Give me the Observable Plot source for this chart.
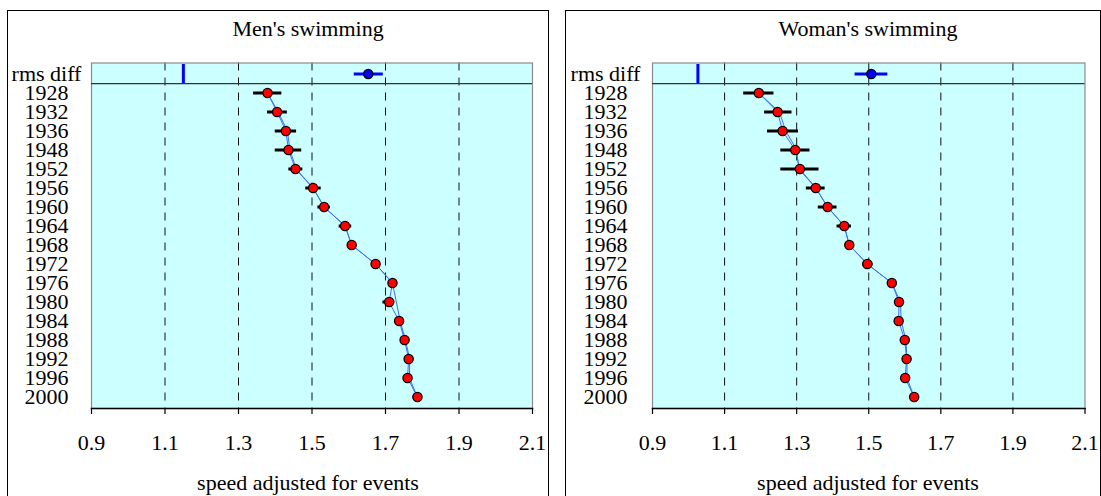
<!DOCTYPE html>
<html>
<head>
<meta charset="utf-8">
<script src="https://cdn.jsdelivr.net/npm/d3@7"></script>
<script src="https://cdn.jsdelivr.net/npm/@observablehq/plot@0.6"></script>
<style>
  html, body { margin: 0; padding: 0; background: white; }
  #page { position: relative; width: 1101px; height: 496px; overflow: hidden; font-family: "Liberation Serif", "Times New Roman", serif; }
  .panel { position: absolute; top: 0; }
  .frame { position: absolute; border: 1px solid black; background: transparent; pointer-events: none; }
  .txt { position: absolute; width: 300px; text-align: center; font-size: 22px; line-height: 22px; white-space: nowrap; color: black; }
  svg text { font-family: "Liberation Serif", "Times New Roman", serif; }
</style>
</head>
<body>
<div id="page"></div>
<script>
// ---------- data ----------
const rowLabels = ["rms diff", "1928", "1932", "1936", "1948", "1952", "1956", "1960", "1964",
  "1968", "1972", "1976", "1980", "1984", "1988", "1992", "1996", "2000"];
const years = rowLabels.slice(1);
const xTicks = [0.9, 1.1, 1.3, 1.5, 1.7, 1.9, 2.1];
const gridTicks = [1.1, 1.3, 1.5, 1.7, 1.9];

// Men's swimming
const menTitle = "Men's swimming";
const menSpeed = [1.379, 1.405, 1.429, 1.436, 1.455, 1.503, 1.533, 1.590, 1.608, 1.673, 1.719, 1.710, 1.737, 1.752, 1.763, 1.760, 1.787];
const menLo    = [1.341, 1.379, 1.400, 1.400, 1.437, 1.483, 1.516, 1.574, 1.597, 1.664, 1.711, 1.693, 1.729, 1.745, 1.756, 1.753, 1.775];
const menHi    = [1.418, 1.433, 1.458, 1.472, 1.475, 1.525, 1.550, 1.608, 1.620, 1.682, 1.727, 1.725, 1.745, 1.759, 1.770, 1.767, 1.801];
const menAltYears = ["1928", "1932", "1936", "1948", "1952", "1956", "1960", "1964", "1968", "1972", "1976", "1984", "1988", "1992", "1996", "2000"];
const menAlt      = [1.379, 1.408, 1.433, 1.440, 1.457, 1.503, 1.533, 1.590, 1.608, 1.673, 1.719, 1.740, 1.754, 1.766, 1.765, 1.787];
const menRms = 1.653, menRmsLo = 1.615, menRmsHi = 1.694, menRmsRef = 1.150;

// Woman's swimming
const womenTitle = "Woman's swimming";
const womenSpeed = [1.195, 1.247, 1.261, 1.296, 1.309, 1.353, 1.386, 1.432, 1.446, 1.496, 1.564, 1.584, 1.583, 1.600, 1.605, 1.601, 1.626];
const womenLo    = [1.153, 1.211, 1.219, 1.256, 1.256, 1.327, 1.360, 1.412, 1.438, 1.483, 1.553, 1.576, 1.574, 1.592, 1.597, 1.593, 1.618];
const womenHi    = [1.237, 1.287, 1.305, 1.337, 1.362, 1.379, 1.412, 1.452, 1.454, 1.512, 1.572, 1.592, 1.591, 1.608, 1.613, 1.609, 1.634];
const womenAltYears = ["1928", "1932", "1936", "1948", "1952", "1956", "1960", "1964", "1968", "1972", "1976", "1980", "1984", "1988", "1992", "1996", "2000"];
const womenAlt      = [1.195, 1.252, 1.270, 1.300, 1.306, 1.353, 1.386, 1.432, 1.446, 1.496, 1.564, 1.588, 1.590, 1.603, 1.606, 1.606, 1.626];
const womenRms = 1.507, womenRmsLo = 1.462, womenRmsHi = 1.553, womenRmsRef = 1.026;

const axisLabel = "speed adjusted for events";

// ---------- drawing ----------
const H = 496, MT = 62.5, MB = 88;
const bw = (H - MT - MB) / rowLabels.length;
const FONT = "Liberation Serif";
const page = document.getElementById("page");

function panel(cfg) {
  const rows = years.map((y, i) => ({year: y, v: cfg.speed[i], lo: cfg.lo[i], hi: cfg.hi[i]}));
  const alt = cfg.altYears.map((y, i) => ({year: y, v: cfg.alt[i]}));
  const rms = [{row: "rms diff", v: cfg.rms, lo: cfg.rmsLo, hi: cfg.rmsHi, ref: cfg.rmsRef}];
  const chart = Plot.plot({
    width: cfg.width, height: H,
    marginTop: MT, marginBottom: MB, marginLeft: cfg.ml, marginRight: cfg.mr,
    style: {fontFamily: FONT, fontSize: "22px", background: "transparent", color: "black", overflow: "visible"},
    x: {domain: [0.9, 2.1]},
    y: {type: "band", domain: rowLabels, padding: 0},
    marks: [
      Plot.frame({fill: "#ccffff", stroke: null}),
      Plot.ruleX(gridTicks, {stroke: "#111", strokeWidth: 1, strokeDasharray: "8,7"}),
      Plot.frame({stroke: "#8a8a8a", strokeWidth: 1.2}),
      Plot.ruleY(["rms diff"], {dy: bw / 2, stroke: "#333", strokeWidth: 1.2}),
      Plot.tickX(rms, {x: "ref", y: "row", stroke: "#0000ff", strokeWidth: 3}),
      Plot.line(rows, {x: "v", y: "year", stroke: "#3f6ff5", strokeWidth: 1}),
      Plot.line(alt, {x: "v", y: "year", stroke: "#3f6ff5", strokeWidth: 1}),
      Plot.ruleY(rows, {y: "year", x1: "lo", x2: "hi", stroke: "black", strokeWidth: 3}),
      Plot.ruleY(rms, {y: "row", x1: "lo", x2: "hi", stroke: "#0000ff", strokeWidth: 3}),
      Plot.dot(rows, {x: "v", y: "year", r: 4.6, fill: "#ff0000", stroke: "black", strokeWidth: 1.3}),
      Plot.dot(rms, {x: "v", y: "row", r: 4.6, fill: "#0000ee", stroke: "black", strokeWidth: 1.3}),
      Plot.frame({anchor: "bottom", stroke: "black", strokeWidth: 1.5}),
      Plot.axisX({ticks: xTicks, tickFormat: d3.format(".1f"), tickSize: 6, tickPadding: 20, label: null,
        fontSize: 22, fontFamily: FONT, fontVariant: "normal", stroke: "black", strokeWidth: 1.2}),
      Plot.axisY({tickSize: 0, tickPadding: cfg.pad, textAnchor: "middle", label: null,
        fontSize: 22, fontFamily: FONT, fontVariant: "normal"})
    ]
  });
  const wrap = document.createElement("div");
  wrap.className = "panel";
  wrap.style.left = cfg.left + "px";
  wrap.appendChild(chart);
  page.appendChild(wrap);

  const t = document.createElement("div");
  t.className = "txt";
  t.textContent = cfg.title;
  t.style.left = (cfg.center - 150) + "px";
  t.style.top = "18px";
  page.appendChild(t);

  const xl = document.createElement("div");
  xl.className = "txt";
  xl.textContent = axisLabel;
  xl.style.left = (cfg.center - 150) + "px";
  xl.style.top = "472px";
  page.appendChild(xl);

  const f = document.createElement("div");
  f.className = "frame";
  f.style.left = cfg.frameL + "px";
  f.style.top = "10px";
  f.style.width = cfg.frameW + "px";
  f.style.height = "520px";
  page.appendChild(f);
}

panel({title: menTitle, speed: menSpeed, lo: menLo, hi: menHi, altYears: menAltYears, alt: menAlt,
  rms: menRms, rmsLo: menRmsLo, rmsHi: menRmsHi, rmsRef: menRmsRef,
  left: 0, width: 555, ml: 91, mr: 23, pad: 45, center: 308, frameL: 7, frameW: 540});
panel({title: womenTitle, speed: womenSpeed, lo: womenLo, hi: womenHi, altYears: womenAltYears, alt: womenAlt,
  rms: womenRms, rmsLo: womenRmsLo, rmsHi: womenRmsHi, rmsRef: womenRmsRef,
  left: 555, width: 546, ml: 97, mr: 16.5, pad: 47, center: 868, frameL: 565, frameW: 534});
</script>
</body>
</html>
